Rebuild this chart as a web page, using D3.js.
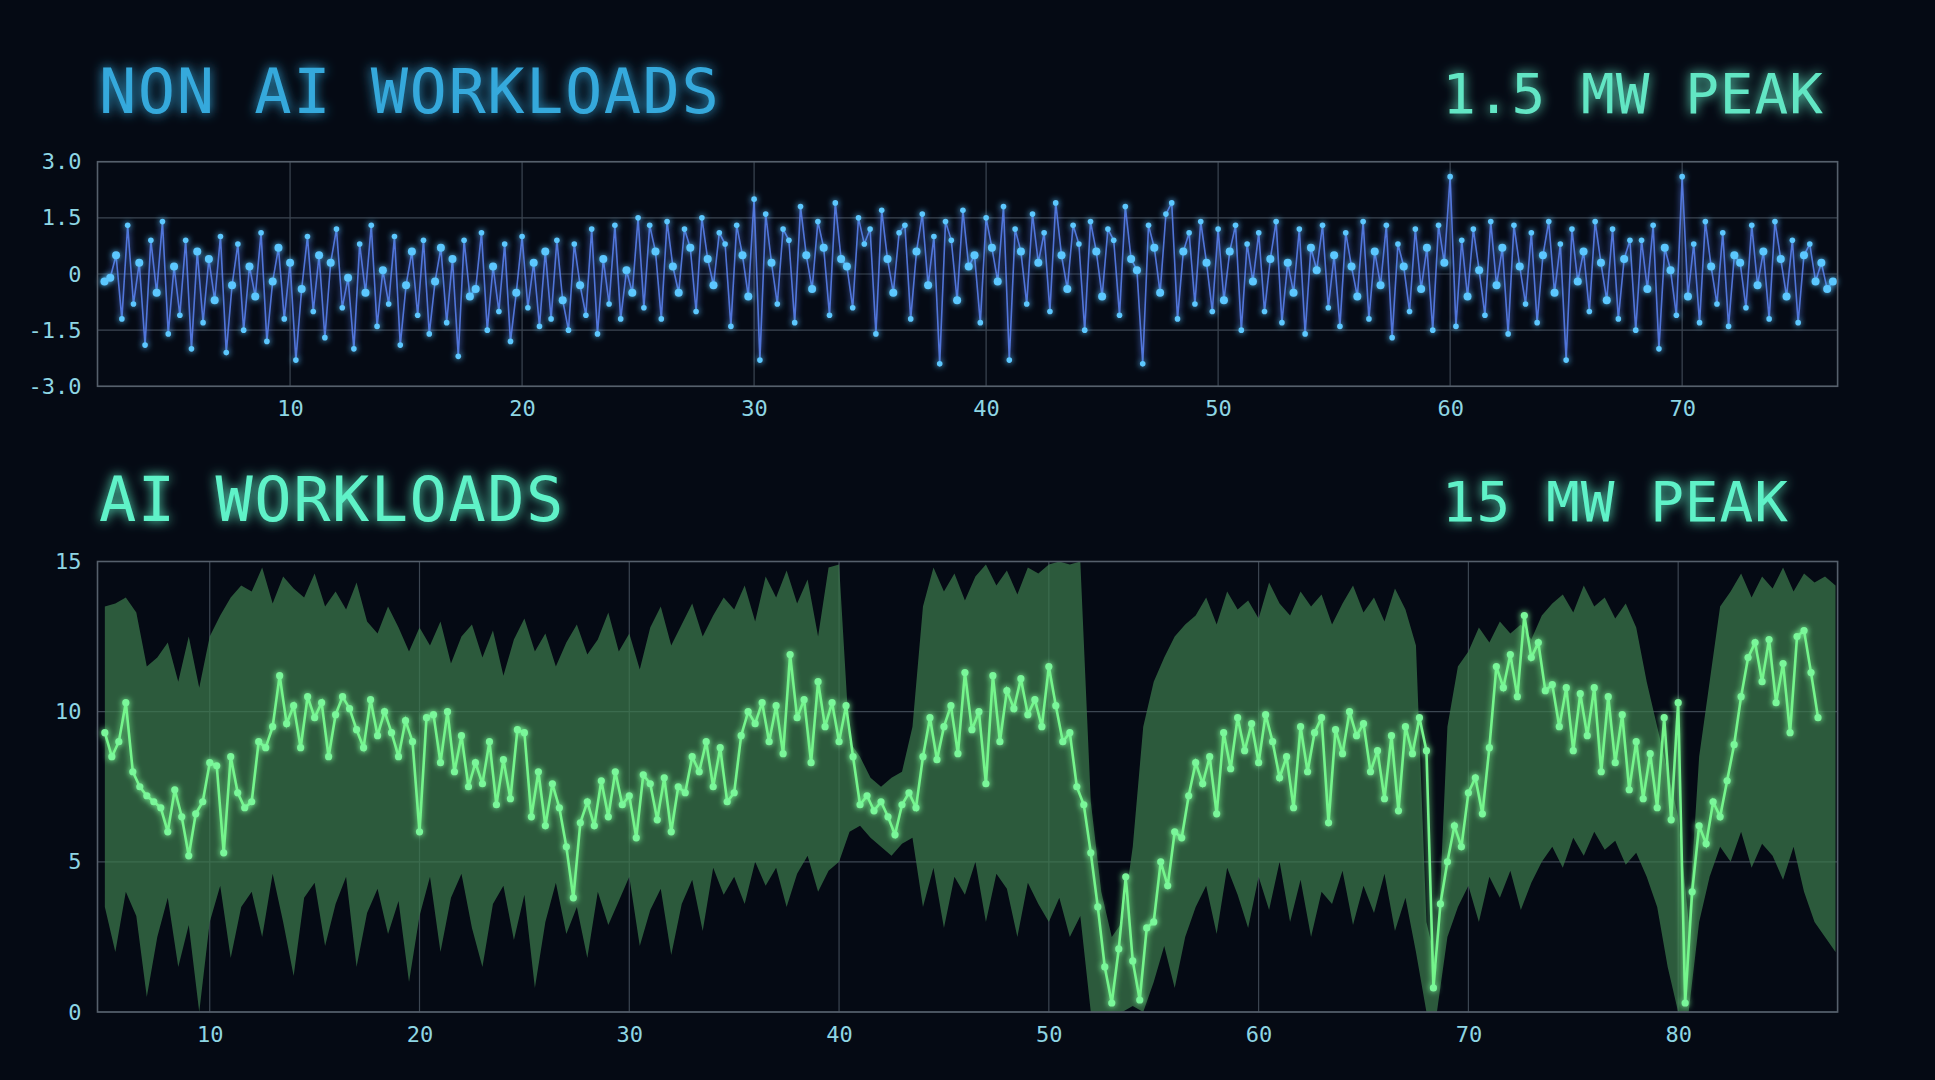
<!DOCTYPE html>
<html>
<head>
<meta charset="utf-8">
<script src="https://cdn.jsdelivr.net/npm/d3@7"></script>
<style>
  body { margin: 0; background: #050a14; }
  text { font-family: "DejaVu Sans Mono", "Liberation Mono", monospace; }
</style>
</head>
<body>
<svg id="chart" width="1935" height="1080"></svg>
<script>
// top panel: non AI load, one sample every 0.25 starting at x = 2
var nonAiStart = 2, nonAiStep = 0.25;
var nonAiValues = [
  -0.2,-0.1,0.5,-1.2,1.3,-0.8,0.3,-1.9,0.9,-0.5,1.4,-1.6,0.2,-1.1,0.9,-2.0,0.6,-1.3,0.4,-0.7,
  1.0,-2.1,-0.3,0.8,-1.5,0.2,-0.6,1.1,-1.8,-0.2,0.7,-1.2,0.3,-2.3,-0.4,1.0,-1.0,0.5,-1.7,0.3,
  1.2,-0.9,-0.1,-2.0,0.8,-0.5,1.3,-1.4,0.1,-0.8,1.0,-1.9,-0.3,0.6,-1.1,0.9,-1.6,-0.2,0.7,-1.3,
  0.4,-2.2,0.9,-0.6,-0.4,1.1,-1.5,0.2,-1.0,0.8,-1.8,-0.5,1.0,-0.9,0.3,-1.4,0.6,-1.2,0.9,-0.7,
  -1.5,0.8,-0.3,-1.1,1.2,-1.6,0.4,-0.8,1.3,-1.2,0.1,-0.5,
  1.5,-0.9,1.3,0.6,-1.2,1.4,0.2,-0.5,1.2,0.7,-1.0,1.5,0.4,-0.3,1.1,0.8,-1.4,1.3,0.5,-0.6,
  2.0,-2.3,1.6,0.3,-0.8,1.2,0.9,-1.3,1.8,0.5,-0.4,1.4,0.7,-1.1,1.9,0.4,0.2,-0.9,1.5,0.8,
  1.2,-1.6,1.7,0.4,-0.5,1.1,1.3,-1.2,0.6,1.6,-0.3,1.0,-2.4,1.4,0.9,-0.7,1.7,0.2,0.5,-1.3,
  1.5,0.7,-0.2,1.8,-2.3,1.2,0.6,-0.8,1.6,0.3,1.1,-1.0,1.9,0.5,-0.4,1.3,0.8,-1.5,1.4,0.6,
  -0.6,1.2,0.9,-1.1,1.8,0.4,0.1,-2.4,1.3,0.7,-0.5,1.6,1.9,-1.2,0.6,1.1,-0.8,1.4,0.3,-1.0,
  1.2,-0.7,0.6,1.3,-1.5,0.8,-0.2,1.1,-1.0,0.4,1.4,-1.3,0.3,-0.5,1.2,-1.6,0.7,0.1,1.3,-0.9,
  0.5,-1.4,1.1,0.2,-0.6,1.4,-1.2,0.6,-0.3,1.3,-1.7,0.8,0.2,-1.0,1.2,-0.4,0.7,-1.5,1.3,0.3,
  2.6,-1.4,0.9,-0.6,1.2,0.1,-1.1,1.4,-0.3,0.7,-1.6,1.3,0.2,-0.8,1.1,-1.3,0.5,1.4,-0.5,0.8,
  -2.3,1.2,-0.2,0.6,-1.0,1.4,0.3,-0.7,1.2,-1.2,0.4,0.9,-1.5,0.9,-0.4,1.3,-2.0,0.7,0.1,-1.1,
  2.6,-0.6,0.8,-1.3,1.4,0.2,-0.8,1.1,-1.4,0.5,0.3,-0.9,1.3,-0.3,0.6,-1.2,1.4,0.4,-0.6,0.9,
  -1.3,0.5,0.8,-0.2,0.3,-0.4,-0.2
];
var nonAiYTicks = [-3, -1.5, 0, 1.5, 3];
var nonAiXTicks = [10, 20, 30, 40, 50, 60, 70];

// bottom panel: AI load, line every 1/3 from x = 5, band every 0.5 from x = 5
var aiStart = 5, aiStep = 1 / 3, bandStep = 0.5;
var aiValues = [
  9.3,8.5,9.0,10.3,8.0,7.5,
  7.2,7.0,6.8,6.0,7.4,6.5,5.2,6.6,7.0,8.3,8.2,5.3,8.5,7.3,6.8,
  7.0,9.0,8.8,9.5,11.2,9.6,10.2,8.8,10.5,9.8,10.3,8.5,9.9,10.5,10.1,9.4,8.8,10.4,9.2,10.0,9.3,8.5,9.7,9.0,6.0,9.8,9.9,8.3,10.0,8.0,
  9.2,7.5,8.3,7.6,9.0,6.9,8.4,7.1,9.4,9.3,6.5,8.0,6.2,7.6,6.8,
  5.5,3.8,6.3,
  7.0,6.2,7.7,6.5,8.0,6.9,7.2,5.8,7.9,7.6,6.4,7.8,6.0,7.5,7.3,
  8.5,8.0,9.0,7.5,8.8,7.0,
  7.3,9.2,10.0,9.6,10.3,9.0,10.2,8.6,11.9,9.8,10.4,8.3,11.0,9.5,10.3,9.0,10.2,8.5,
  6.9,7.2,6.7,7.0,6.5,5.9,6.9,7.3,6.8,
  8.5,9.8,8.4,9.5,10.2,8.6,11.3,9.4,10.0,7.6,11.2,9.0,10.7,10.1,11.1,9.9,10.4,9.5,
  11.5,10.2,9.0,9.3,7.5,6.9,
  5.3,3.5,1.5,0.3,2.1,4.5,1.7,0.4,2.8,
  3.0,5.0,4.2,6.0,5.8,7.2,
  8.3,7.6,8.5,6.6,9.3,8.1,9.8,8.7,9.6,8.3,9.9,9.0,7.8,8.5,6.8,9.5,8.0,9.3,9.8,6.3,9.4,8.6,10.0,9.2,9.6,8.0,8.7,7.1,9.2,6.7,
  9.5,8.6,9.8,8.7,
  0.8,3.6,5.0,6.2,5.5,7.3,7.8,6.6,
  8.8,11.5,10.8,11.9,10.5,13.2,11.8,12.3,10.7,10.9,9.5,10.8,8.7,10.6,9.2,10.8,8.0,10.5,8.3,9.9,7.4,
  9.0,7.1,8.6,6.8,9.8,6.4,10.3,
  0.3,4.0,6.2,5.6,7.0,6.5,7.7,8.9,
  10.5,11.8,12.3,11.0,12.4,10.3,11.6,9.3,12.5,12.7,11.3,9.8
];
var aiUpper = [
  13.5,13.6,13.8,13.3, 11.5,11.8,12.3,11.0,12.5,10.8, 12.5,13.2,13.8,14.2,
  14.0,14.8,13.6,14.5,14.1,13.8,14.6,13.5,14.0,13.4,14.3,13.0,12.6,13.5,12.8,12.0,
  12.8,12.2,13.0,11.6,12.5,12.9,11.8,12.7,11.2,12.4,13.1,12.0,12.6,11.5,12.3,12.9,11.9,12.4,13.3,12.0,12.6,11.4,12.8,13.5,12.2,12.9,13.6,12.5,13.2,13.8,
  13.4,14.2,13.0,14.5,13.8,14.7,13.6,14.4,12.5,14.8,14.9,
  9.0,8.5,7.8,7.5,7.8,8.0,9.5,
  13.5,14.8,14.0,14.6,13.7,14.5,14.9,14.2,14.7,13.9,14.8,14.6,
  14.9,15.0,14.9,15.0, 7.0,4.0,2.5,3.0,5.5, 9.5,11.0,11.8,12.5,12.9,
  13.2,13.8,12.9,14.0,13.4,13.7,13.1,14.3,13.6,13.2,14.0,13.5,13.9,12.9,13.6,14.2,13.3,13.8,13.0,14.1,13.4,12.2,
  3.0,1.5, 9.5,11.5,12.0,12.8,12.3,13.0,12.6,12.9,12.4,13.2,
  13.6,13.9,13.3,14.2,13.5,13.8,13.1,13.6,12.8, 11.0,9.5,8.0,6.5,3.0,
  8.5,11.0,13.5,14.0,14.6,13.8,14.5,14.1,14.8,14.0,14.6,14.3,14.5,14.2
];
var aiLower = [
  3.5,2.0,4.0,3.2, 0.5,2.5,3.8,1.5,2.9,0.0, 3.0,4.2,1.8,3.5,
  4.0,2.5,4.6,3.0,1.2,3.8,4.3,2.2,3.6,4.5,1.5,3.3,4.1,2.6,3.7,1.0,
  3.2,4.5,2.0,3.8,4.6,2.8,1.5,3.6,4.2,2.4,3.9,0.8,3.0,4.3,2.6,3.5,1.8,4.0,2.9,3.7,4.5,2.2,3.4,4.1,1.9,3.6,4.4,2.7,4.8,3.9,
  4.5,3.6,5.0,4.2,4.8,3.5,4.6,5.2,4.0,4.7,5.0,
  6.0,6.2,5.8,5.5,5.2,5.6,5.8,
  3.5,4.8,2.8,4.5,3.9,5.0,3.0,4.6,4.1,2.5,4.3,3.6,
  3.0,3.8,2.5,3.2, 0.0,0.0,0.0,0.0,0.2, 0.0,1.0,2.2,0.8,2.5,
  3.5,4.2,2.6,4.8,3.9,2.8,4.5,3.4,5.0,3.0,4.4,2.5,4.0,3.6,4.7,2.9,4.2,3.3,4.6,2.7,3.8,2.0,
  0.0,0.0, 2.5,3.5,4.2,3.0,4.5,3.8,4.7,3.4,4.3,5.0,
  5.5,4.8,5.8,5.2,6.0,5.4,5.7,4.9,5.3, 4.5,3.5,1.5,0.0,0.0,
  3.0,4.5,5.5,5.0,6.0,4.8,5.6,5.2,4.4,5.5,4.0,3.0,2.5,2.0
];
var aiYTicks = [0, 5, 10, 15];
var aiXTicks = [10, 20, 30, 40, 50, 60, 70, 80];

var svg = d3.select("#chart");
var defs = svg.append("defs");

// glow filters
function glow(id, dev) {
  var f = defs.append("filter").attr("id", id)
    .attr("x", "-20%").attr("y", "-20%").attr("width", "140%").attr("height", "140%");
  f.append("feGaussianBlur").attr("stdDeviation", dev).attr("result", "b");
  var m = f.append("feMerge");
  m.append("feMergeNode").attr("in", "b");
  m.append("feMergeNode").attr("in", "SourceGraphic");
}
glow("glowS", 3);
glow("glowT", 6);

var left = 97.5, right = 1837.6;

function panel(cfg) {
  var x = d3.scaleLinear().domain(cfg.xDomain).range([left, right]);
  var y = d3.scaleLinear().domain(cfg.yDomain).range([cfg.bottom, cfg.top]);
  var g = svg.append("g");

  // grid
  g.selectAll(".gx").data(cfg.xTicks).join("line")
    .attr("x1", d => x(d)).attr("x2", d => x(d))
    .attr("y1", cfg.top).attr("y2", cfg.bottom)
    .attr("stroke", "#3c4652").attr("stroke-width", 1.2);
  g.selectAll(".gy").data(cfg.yTicks).join("line")
    .attr("x1", left).attr("x2", right)
    .attr("y1", d => y(d)).attr("y2", d => y(d))
    .attr("stroke", "#3c4652").attr("stroke-width", 1.2);

  // axes labels
  var xa = g.append("g").attr("transform", "translate(0," + cfg.bottom + ")")
    .call(d3.axisBottom(x).tickValues(cfg.xTicks).tickSize(0).tickPadding(14));
  var ya = g.append("g").attr("transform", "translate(" + left + ",0)")
    .call(d3.axisLeft(y).tickValues(cfg.yTicks).tickSize(0).tickPadding(16).tickFormat(cfg.yFormat));
  [xa, ya].forEach(a => {
    a.select(".domain").remove();
    a.selectAll("text").attr("fill", "#8ed6e4").style("font-size", "22px")
      .style("font-family", "'DejaVu Sans Mono', monospace");
  });

  cfg.draw(g, x, y);

  // frame
  g.append("rect").attr("x", left).attr("y", cfg.top)
    .attr("width", right - left).attr("height", cfg.bottom - cfg.top)
    .attr("fill", "none").attr("stroke", "#56606c").attr("stroke-width", 1.6);

  // titles
  svg.append("text").attr("x", 99).attr("y", cfg.titleY)
    .attr("fill", cfg.titleColor).attr("filter", "url(#glowT)")
    .style("font-size", "62px").style("letter-spacing", "1.5px").text(cfg.title);
  svg.append("text").attr("x", cfg.peakX).attr("y", cfg.titleY).attr("text-anchor", "end")
    .attr("fill", cfg.peakColor).attr("filter", "url(#glowT)")
    .style("font-size", "56px").style("letter-spacing", "1px").text(cfg.peak);
}

// NON AI panel
panel({
  top: 161.7, bottom: 386.3, xDomain: [1.7, 76.7], yDomain: [-3, 3],
  xTicks: nonAiXTicks, yTicks: nonAiYTicks,
  yFormat: d => d === 0 ? "0" : d3.format(".1f")(d).replace("−", "-"),
  title: "NON AI WORKLOADS", peak: "1.5 MW PEAK", titleY: 113, peakX: 1824,
  titleColor: "#36a9dc", peakColor: "#62e6c4",
  draw: function (g, x, y) {
    var pts = nonAiValues.map((v, i) => [nonAiStart + i * nonAiStep, v]);
    g.append("path").datum(pts)
      .attr("d", d3.line().x(d => x(d[0])).y(d => y(d[1])))
      .attr("fill", "none").attr("stroke", "#5a82f2").attr("stroke-opacity", 0.85)
      .attr("stroke-width", 1.6).attr("filter", "url(#glowS)");
    g.append("g").attr("filter", "url(#glowS)").selectAll("circle").data(pts).join("circle")
      .attr("cx", d => x(d[0])).attr("cy", d => y(d[1]))
      .attr("r", d => Math.abs(d[1]) < 0.8 ? 4 : 2.8)
      .attr("fill", "#5cc8ff");
  }
});

// AI panel
panel({
  top: 561.5, bottom: 1012, xDomain: [4.65, 87.6], yDomain: [0, 15],
  xTicks: aiXTicks, yTicks: aiYTicks, yFormat: d3.format("d"),
  title: "AI WORKLOADS", peak: "15 MW PEAK", titleY: 521, peakX: 1789,
  titleColor: "#5ff2c8", peakColor: "#5ff2c8",
  draw: function (g, x, y) {
    var band = aiUpper.map((u, i) => [aiStart + i * bandStep, u, aiLower[i]]);
    g.append("path").datum(band)
      .attr("d", d3.area().x(d => x(Math.min(d[0], 87.6))).y0(d => y(d[2])).y1(d => y(d[1])))
      .attr("fill", "#3c7a4c").attr("fill-opacity", 0.72);
    var pts = aiValues.map((v, i) => [aiStart + i * aiStep, v]);
    g.append("path").datum(pts)
      .attr("d", d3.line().x(d => x(d[0])).y(d => y(d[1])))
      .attr("fill", "none").attr("stroke", "#74f58c")
      .attr("stroke-width", 2.6).attr("filter", "url(#glowS)");
    g.append("g").attr("filter", "url(#glowS)").selectAll("circle").data(pts).join("circle")
      .attr("cx", d => x(d[0])).attr("cy", d => y(d[1])).attr("r", 3.6)
      .attr("fill", "#7af79a");
  }
});
</script>
</body>
</html>
